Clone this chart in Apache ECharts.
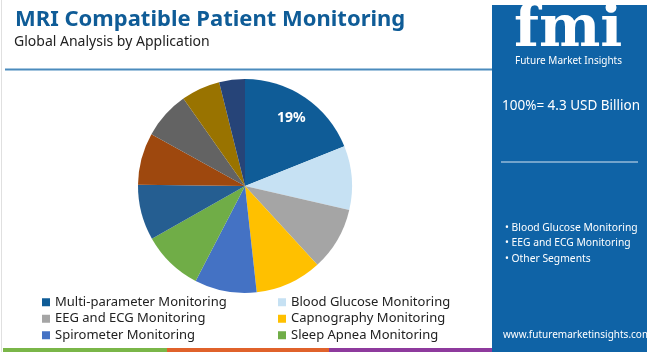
<!DOCTYPE html>
<html>
<head>
<meta charset="utf-8">
<script src="https://cdn.jsdelivr.net/npm/echarts@6/dist/echarts.min.js"></script>
<style>html,body{margin:0;padding:0;background:#fff}#c{width:650px;height:352px}</style>
</head>
<body>
<div id="c"></div>
<script>
const categories = [
  'Multi-parameter Monitoring', 'Blood Glucose Monitoring', 'EEG and ECG Monitoring',
  'Capnography Monitoring', 'Spirometer Monitoring', 'Sleep Apnea Monitoring',
  'Segment 7', 'Segment 8', 'Segment 9', 'Segment 10', 'Segment 11'
];
const values = [19, 9.7, 9.6, 10.1, 9.4, 9.2, 8.4, 7.9, 7.2, 5.9, 3.9];
const colors = ['#0f5c97', '#c6e1f3', '#a5a5a5', '#ffc000', '#4472c4', '#70ad47',
                '#255e91', '#9e480e', '#636363', '#997300', '#264478'];
const legendItems = categories.slice(0, 6);
const labelled = ['Multi-parameter Monitoring'];
const sideBullets = ['• Blood Glucose Monitoring', '• EEG and ECG Monitoring', '• Other Segments'];

const chart = echarts.init(document.getElementById('c'));
const font = 'Noto Sans';
const data = categories.map((n, i) => ({ name: n, value: values[i], itemStyle: { color: colors[i] } }));
const labelData = categories.map((n, i) => ({
  name: n, value: values[i],
  label: { show: labelled.includes(n) }
}));

chart.setOption({
  backgroundColor: '#fff',
  animation: false,
  title: [
    { text: 'MRI Compatible Patient Monitoring', left: 10, top: 4,
      textStyle: { fontFamily: font, fontWeight: 'bold', fontSize: 22, color: '#0f5c97' } },
    { text: 'Global Analysis by Application', left: 9, top: 30,
      textStyle: { fontFamily: font, fontWeight: 'normal', fontSize: 14, color: '#222' } }
  ],
  legend: {
    data: legendItems, left: 42, top: 294, width: 490, orient: 'horizontal', padding: 0,
    itemWidth: 8, itemHeight: 8, itemGap: 0, icon: 'rect', selectedMode: false,
    textStyle: { fontFamily: font, fontSize: 13, color: '#222', width: 223, lineHeight: 16.5, padding: [0,0,0,0] }
  },
  series: [
    {
      type: 'pie', center: [245, 186], radius: [0, 107], startAngle: 90, clockwise: true,
      data: data, label: { show: false }, labelLine: { show: false },
      itemStyle: { borderWidth: 0 }, silent: true
    },
    {
      type: 'pie', center: [245, 186], radius: [52, 107], startAngle: 90, clockwise: true,
      data: labelData, silent: true, legendHoverLink: false,
      itemStyle: { color: 'rgba(0,0,0,0)' },
      label: { position: 'inside', formatter: p => Math.round(p.value) + '%',
               fontFamily: font, fontWeight: 'bold', fontSize: 14, color: '#fff' },
      labelLine: { show: false }
    }
  ],
  graphic: [
    { type: 'rect', shape: { x: 1, y: 0, width: 1, height: 352 }, style: { fill: '#e0e0e0' } },
    { type: 'rect', shape: { x: 5, y: 68.5, width: 487, height: 2 }, style: { fill: '#4b8bbd' } },
    { type: 'rect', shape: { x: 3, y: 348, width: 164, height: 4 }, style: { fill: '#7ab648' } },
    { type: 'rect', shape: { x: 167, y: 348, width: 162, height: 4 }, style: { fill: '#e0622b' } },
    { type: 'rect', shape: { x: 329, y: 348, width: 163, height: 4 }, style: { fill: '#8e3a9d' } },
    { type: 'rect', shape: { x: 492, y: 5, width: 155, height: 347 }, style: { fill: '#0f63a6' } },
    { type: 'text', left: 514, top: 2, style: { text: 'fmi', fontFamily: 'DejaVu Serif', fontWeight: 'bold', fontSize: 58, fill: '#fff' } },
    { type: 'text', left: 515, top: 56, style: { text: 'Future Market Insights', fontFamily: font, fontSize: 10, fill: '#fff' } },
    { type: 'text', left: 502, top: 99, style: { text: '100%= 4.3 USD Billion', fontFamily: font, fontSize: 13.5, fill: '#fff' } },
    { type: 'rect', shape: { x: 501, y: 161.5, width: 137, height: 1 }, style: { fill: '#d8e6f2' } },
    { type: 'text', left: 505, top: 223, style: { text: sideBullets[0], fontFamily: font, fontSize: 10.3, fill: '#fff' } },
    { type: 'text', left: 505, top: 238, style: { text: sideBullets[1], fontFamily: font, fontSize: 10.3, fill: '#fff' } },
    { type: 'text', left: 505, top: 254, style: { text: sideBullets[2], fontFamily: font, fontSize: 10.3, fill: '#fff' } },
    { type: 'text', left: 503, top: 330, style: { text: 'www.futuremarketinsights.com', fontFamily: font, fontSize: 10, fill: '#fff' } }
  ]
});
</script>
</body>
</html>
